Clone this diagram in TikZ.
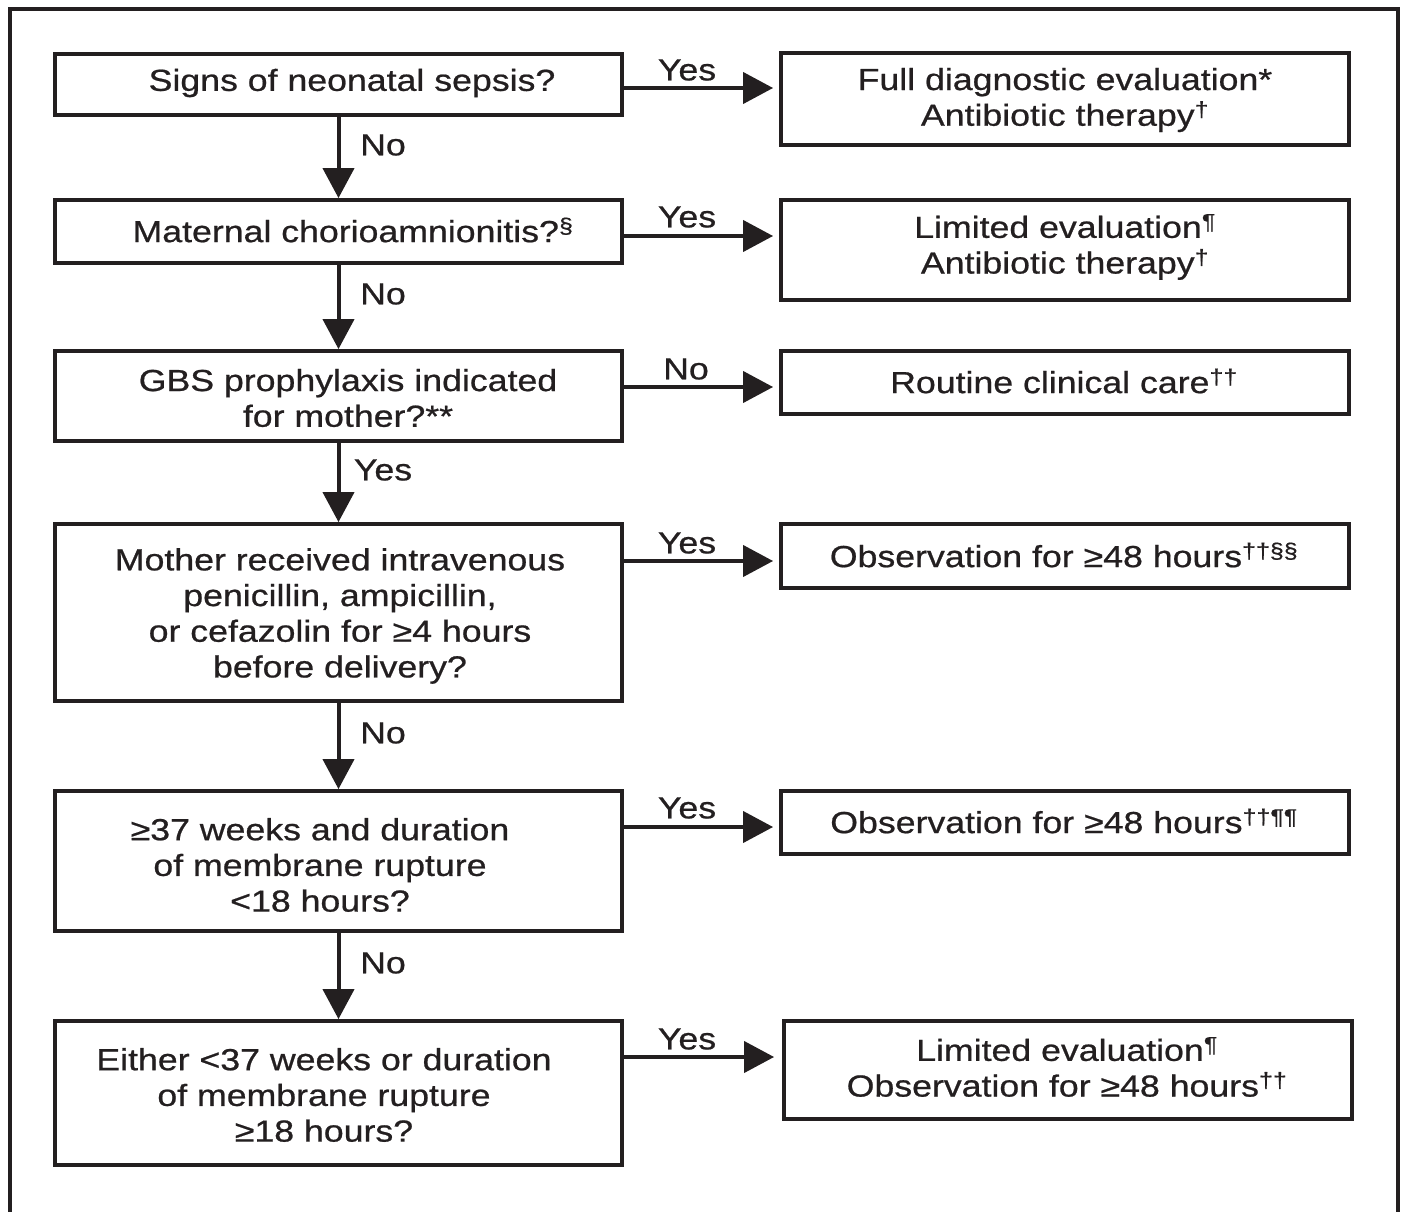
\documentclass[tikz,border=0pt]{standalone}
\usepackage{fontspec}
\setmainfont{Liberation Sans}[FakeStretch=1.17,FakeBold=0.7]
\usetikzlibrary{arrows.meta}
\definecolor{ink}{HTML}{231F20}
\begin{document}
\begin{tikzpicture}[x=1pt,y=-1pt,
  box/.style={draw=ink, line width=3.8pt, inner sep=0pt},
  txt/.style={text=ink, align=center, font=\fontsize{30.5}{35.7}\selectfont, inner sep=0pt},
  lab/.style={text=ink, font=\fontsize{30.5}{35.7}\selectfont, inner sep=0pt},
  arr/.style={draw=ink, line width=4pt, -{Triangle[length=30pt,width=31pt]}}]
\useasboundingbox (0,0) rectangle (1403,1212);
% outer frame
\draw[ink, line width=3.5pt] (10,1212) -- (10,9) -- (1398,9) -- (1398,1212);
% left boxes
\node[box, minimum width=567pt, minimum height=61pt]  (b1) at (338.5,84.5) {};
\node[box, minimum width=567pt, minimum height=63pt]  (b2) at (338.5,231.5) {};
\node[box, minimum width=567pt, minimum height=90pt]  (b3) at (338.5,396) {};
\node[box, minimum width=567pt, minimum height=177pt] (b4) at (338.5,612.5) {};
\node[box, minimum width=567pt, minimum height=140pt] (b5) at (338.5,861) {};
\node[box, minimum width=567pt, minimum height=144pt] (b6) at (338.5,1093) {};
% right boxes
\node[box, minimum width=568pt, minimum height=92pt]  (r1) at (1065,99) {};
\node[box, minimum width=568pt, minimum height=100pt] (r2) at (1065,250) {};
\node[box, minimum width=568pt, minimum height=63pt]  (r3) at (1065,382.5) {};
\node[box, minimum width=568pt, minimum height=64pt]  (r4) at (1065,556) {};
\node[box, minimum width=568pt, minimum height=63pt]  (r5) at (1065,822.5) {};
\node[box, minimum width=568pt, minimum height=98pt]  (r6) at (1068,1070) {};
% left texts
\node[txt] (t1) at (352,83) {Signs of neonatal sepsis?};
\node[txt] (t2) at (353,230) {Maternal chorioamnionitis?\textsuperscript{§}};
\node[txt] (t3) at (348,398) {GBS prophylaxis indicated\\for mother?**};
\node[txt] (t4) at (340,616) {Mother received intravenous\\penicillin, ampicillin,\\or cefazolin for ≥4 hours\\before delivery?};
\node[txt] (t5) at (320,865) {≥37 weeks and duration\\of membrane rupture\\<18 hours?};
\node[txt] (t6) at (324,1095) {Either <37 weeks or duration\\of membrane rupture\\≥18 hours?};
% right texts
\node[txt] (u1) at (1065,100) {Full diagnostic evaluation*\\Antibiotic therapy\textsuperscript{†}};
\node[txt] (u2) at (1065,247) {Limited evaluation\textsuperscript{¶}\\Antibiotic therapy\textsuperscript{†}};
\node[txt] (u3) at (1064,381) {Routine clinical care\textsuperscript{††}};
\node[txt] (u4) at (1064,555) {Observation for ≥48 hours\textsuperscript{††§§}};
\node[txt] (u5) at (1064,821) {Observation for ≥48 hours\textsuperscript{††¶¶}};
\node[txt] (u6) at (1067,1067) {Limited evaluation\textsuperscript{¶}\\Observation for ≥48 hours\textsuperscript{††}};
% vertical arrows
\draw[arr] (b1.south) -- (b2.north);
\draw[arr] (b2.south) -- (b3.north);
\draw[arr] (b3.south) -- (b4.north);
\draw[arr] (b4.south) -- (b5.north);
\draw[arr] (b5.south) -- (b6.north);
\node[lab] (n1) at (383,145) {No};
\node[lab] (n2) at (383,294) {No};
\node[lab] (n3) at (383,470) {Yes};
\node[lab] (n4) at (383,733) {No};
\node[lab] (n5) at (383,963) {No};
% horizontal arrows
\coordinate (h1) at (700,88);
\coordinate (h2) at (700,236);
\coordinate (h3) at (700,387);
\coordinate (h4) at (700,561);
\coordinate (h5) at (700,827);
\coordinate (h6) at (700,1057);
\draw[arr, shorten >=6pt] (b1.east |- h1) -- (r1.west |- h1);
\draw[arr, shorten >=6pt] (b2.east |- h2) -- (r2.west |- h2);
\draw[arr, shorten >=6pt] (b3.east |- h3) -- (r3.west |- h3);
\draw[arr, shorten >=6pt] (b4.east |- h4) -- (r4.west |- h4);
\draw[arr, shorten >=6pt] (b5.east |- h5) -- (r5.west |- h5);
\draw[arr, shorten >=8pt] (b6.east |- h6) -- (r6.west |- h6);
\node[lab] (y1) at (687,70) {Yes};
\node[lab] (y2) at (687,217) {Yes};
\node[lab] (y3) at (686,369) {No};
\node[lab] (y4) at (687,543) {Yes};
\node[lab] (y5) at (687,808) {Yes};
\node[lab] (y6) at (687,1039) {Yes};
\end{tikzpicture}
\end{document}
